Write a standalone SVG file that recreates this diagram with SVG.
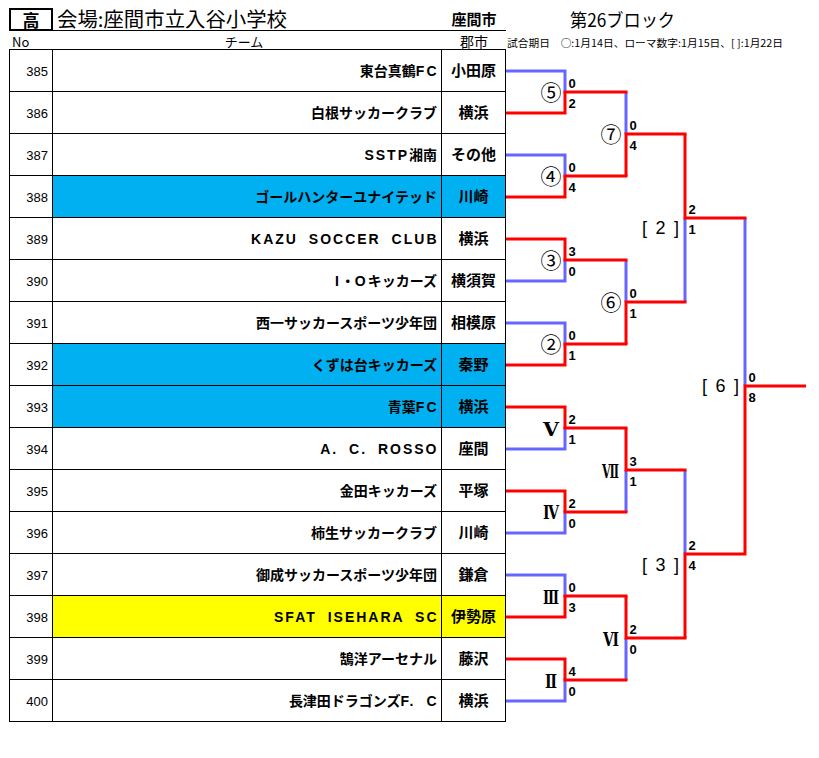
<svg xmlns="http://www.w3.org/2000/svg" width="819" height="758" viewBox="0 0 819 758">
<style>
.ln{fill:none;stroke-width:3}
.b{stroke:#6666FF}
.r{stroke:#FF0000}
.grid{fill:none;stroke:#000;stroke-width:1}
.no{font-family:"Liberation Sans",sans-serif;font-size:13px;text-anchor:end}
.team{font-family:"Liberation Sans","Noto Sans CJK JP",sans-serif;font-size:14px;font-weight:bold;text-anchor:end}
.lat{letter-spacing:2px;word-spacing:5px}
.city{font-family:"Noto Sans CJK JP",sans-serif;font-size:15px;font-weight:bold;text-anchor:middle}
.sc{font-family:"Liberation Sans",sans-serif;font-size:13px;font-weight:bold}
.cir{font-family:"Noto Sans CJK JP",sans-serif;font-size:21px;text-anchor:middle}
.rom{font-family:"DejaVu Serif","Noto Sans CJK JP",serif;font-size:18.5px;font-weight:bold}
.brk{font-family:"Liberation Sans",sans-serif;font-size:18px}
.hd{font-family:"Noto Sans CJK JP",sans-serif}
.cy{fill:#00B0F0}
.yl{fill:#FFFF00}
</style>
<rect width="819" height="758" fill="#fff"/>
<g id="header">
<rect x="10" y="9" width="42" height="21" fill="none" stroke="#000" stroke-width="2"/>
<text class="hd" x="31" y="27" font-size="17" font-weight="bold" text-anchor="middle">高</text>
<text class="hd" x="57" y="27" font-size="20" textLength="230" lengthAdjust="spacingAndGlyphs">会場:座間市立入谷小学校</text>
<line x1="52" y1="30.5" x2="506" y2="30.5" stroke="#000" stroke-width="1"/>
<text class="hd" x="474" y="25" font-size="15" font-weight="bold" text-anchor="middle">座間市</text>
<text class="hd" x="570" y="27" font-size="18" textLength="105" lengthAdjust="spacingAndGlyphs">第26ブロック</text>
<text class="hd" x="12" y="47" font-size="13">No</text>
<text class="hd" x="244" y="47" font-size="13" text-anchor="middle">チーム</text>
<text class="hd" x="474" y="47" font-size="14" text-anchor="middle">郡市</text>
<text class="hd" x="507" y="46.5" font-size="10" textLength="276" lengthAdjust="spacingAndGlyphs">試合期日　○:1月14日、ローマ数字:1月15日、[ ]:1月22日</text>
</g>
<g id="table-fills">
<rect class="cy" x="52.5" y="175.5" width="453" height="42"/>
<rect class="cy" x="52.5" y="343.5" width="453" height="84"/>
<rect class="yl" x="52.5" y="595.5" width="453" height="42"/>
</g>
<g id="table-grid" class="grid">
<rect x="9.5" y="49.5" width="496" height="672"/>
<path d="M52.5,49.5V721.5M441.5,49.5V721.5M9.5,91.5H505.5M9.5,133.5H505.5M9.5,175.5H505.5M9.5,217.5H505.5M9.5,259.5H505.5M9.5,301.5H505.5M9.5,343.5H505.5M9.5,385.5H505.5M9.5,427.5H505.5M9.5,469.5H505.5M9.5,511.5H505.5M9.5,553.5H505.5M9.5,595.5H505.5M9.5,637.5H505.5M9.5,679.5H505.5"/>
</g>
<g id="team-385"><text class="no" x="48" y="76">385</text><text class="team" x="438.5" y="76">東台真鶴<tspan class="lat">FC</tspan></text><text class="city" x="473.5" y="76">小田原</text></g>
<g id="team-386"><text class="no" x="48" y="118">386</text><text class="team" x="437" y="118">白根サッカークラブ</text><text class="city" x="473.5" y="118">横浜</text></g>
<g id="team-387"><text class="no" x="48" y="160">387</text><text class="team" x="437" y="160"><tspan class="lat">SSTP</tspan>湘南</text><text class="city" x="473.5" y="160">その他</text></g>
<g id="team-388"><text class="no" x="48" y="202">388</text><text class="team" x="437" y="202">ゴールハンターユナイテッド</text><text class="city" x="473.5" y="202">川崎</text></g>
<g id="team-389"><text class="no" x="48" y="244">389</text><text class="team" x="438.5" y="244"><tspan class="lat">KAZU SOCCER CLUB</tspan></text><text class="city" x="473.5" y="244">横浜</text></g>
<g id="team-390"><text class="no" x="48" y="286">390</text><text class="team" x="437" y="286"><tspan class="lat">I</tspan>・<tspan class="lat">O</tspan>キッカーズ</text><text class="city" x="473.5" y="286">横須賀</text></g>
<g id="team-391"><text class="no" x="48" y="328">391</text><text class="team" x="437" y="328">西一サッカースポーツ少年団</text><text class="city" x="473.5" y="328">相模原</text></g>
<g id="team-392"><text class="no" x="48" y="370">392</text><text class="team" x="437" y="370">くずは台キッカーズ</text><text class="city" x="473.5" y="370">秦野</text></g>
<g id="team-393"><text class="no" x="48" y="412">393</text><text class="team" x="438.5" y="412">青葉<tspan class="lat">FC</tspan></text><text class="city" x="473.5" y="412">横浜</text></g>
<g id="team-394"><text class="no" x="48" y="454">394</text><text class="team" x="438.5" y="454"><tspan class="lat">A. C. ROSSO</tspan></text><text class="city" x="473.5" y="454">座間</text></g>
<g id="team-395"><text class="no" x="48" y="496">395</text><text class="team" x="437" y="496">金田キッカーズ</text><text class="city" x="473.5" y="496">平塚</text></g>
<g id="team-396"><text class="no" x="48" y="538">396</text><text class="team" x="437" y="538">柿生サッカークラブ</text><text class="city" x="473.5" y="538">川崎</text></g>
<g id="team-397"><text class="no" x="48" y="580">397</text><text class="team" x="437" y="580">御成サッカースポーツ少年団</text><text class="city" x="473.5" y="580">鎌倉</text></g>
<g id="team-398"><text class="no" x="48" y="622">398</text><text class="team" x="438.5" y="622"><tspan class="lat">SFAT ISEHARA SC</tspan></text><text class="city" x="473.5" y="622">伊勢原</text></g>
<g id="team-399"><text class="no" x="48" y="664">399</text><text class="team" x="437" y="664">鵠洋アーセナル</text><text class="city" x="473.5" y="664">藤沢</text></g>
<g id="team-400"><text class="no" x="48" y="706">400</text><text class="team" x="438.5" y="706">長津田ドラゴンズ<tspan class="lat">F. C</tspan></text><text class="city" x="473.5" y="706">横浜</text></g>
<g id="connectors">
<path class="ln b" d="M506,71H565V92M506,155H565V176M506,281H565V260M506,323H565V344M506,449H565V428M506,533H565V512M506,575H565V596M506,701H565V680"/>
<path class="ln b" d="M626,92V134M626,260V302M626,512V470M626,680V638M685,302V218M685,470V554M745,218V386"/>
<path class="ln r" d="M506,113H565V92M506,197H565V176M506,239H565V260M506,365H565V344M506,407H565V428M506,491H565V512M506,617H565V596M506,659H565V680"/>
<path class="ln r" d="M563.5,92H627.5M563.5,176H627.5M563.5,260H627.5M563.5,344H627.5M563.5,428H627.5M563.5,512H627.5M563.5,596H627.5M563.5,680H627.5"/>
<path class="ln r" d="M626,176V134M626,344V302M626,428V470M626,596V638M624.5,134H686.5M624.5,302H686.5M624.5,470H686.5M624.5,638H686.5"/>
<path class="ln r" d="M685,134V218M685,638V554M683.5,218H746.5M683.5,554H746.5M745,554V386M743.5,386H806"/>
</g>
<g id="scores" class="sc">
<text x="568.5" y="88">0</text><text x="568.5" y="108">2</text>
<text x="568.5" y="172">0</text><text x="568.5" y="192">4</text>
<text x="568.5" y="256">3</text><text x="568.5" y="276">0</text>
<text x="568.5" y="340">0</text><text x="568.5" y="360">1</text>
<text x="568.5" y="424">2</text><text x="568.5" y="444">1</text>
<text x="568.5" y="508">2</text><text x="568.5" y="528">0</text>
<text x="568.5" y="592">0</text><text x="568.5" y="612">3</text>
<text x="568.5" y="676">4</text><text x="568.5" y="696">0</text>
<text x="629.5" y="130">0</text><text x="629.5" y="150">4</text>
<text x="629.5" y="298">0</text><text x="629.5" y="318">1</text>
<text x="629.5" y="466">3</text><text x="629.5" y="486">1</text>
<text x="629.5" y="634">2</text><text x="629.5" y="654">0</text>
<text x="688.5" y="214">2</text><text x="688.5" y="234">1</text>
<text x="688.5" y="550">2</text><text x="688.5" y="570">4</text>
<text x="748.5" y="382">0</text><text x="748.5" y="402">8</text>
</g>
<g id="match-labels">
<text class="cir" x="551" y="100">⑤</text>
<text class="cir" x="551" y="184">④</text>
<text class="cir" x="551" y="268">③</text>
<text class="cir" x="551" y="352">②</text>
<text class="cir" x="611" y="142">⑦</text>
<text class="cir" x="611" y="310">⑥</text>
<text class="rom" x="543" y="435.5" textLength="16" lengthAdjust="spacingAndGlyphs">Ⅴ</text>
<text class="rom" x="543" y="518.5" textLength="16" lengthAdjust="spacingAndGlyphs">Ⅳ</text>
<text class="rom" x="543" y="603.5" textLength="16" lengthAdjust="spacingAndGlyphs">Ⅲ</text>
<text class="rom" x="545" y="687.5" textLength="12" lengthAdjust="spacingAndGlyphs">Ⅱ</text>
<text class="rom" x="602" y="477.5" textLength="17" lengthAdjust="spacingAndGlyphs">Ⅶ</text>
<text class="rom" x="603" y="645.5" textLength="16" lengthAdjust="spacingAndGlyphs">Ⅵ</text>
<text class="brk" x="642" y="234" textLength="37" lengthAdjust="spacing">[ 2 ]</text>
<text class="brk" x="642" y="571" textLength="37" lengthAdjust="spacing">[ 3 ]</text>
<text class="brk" x="702" y="392" textLength="37" lengthAdjust="spacing">[ 6 ]</text>
</g>
</svg>
